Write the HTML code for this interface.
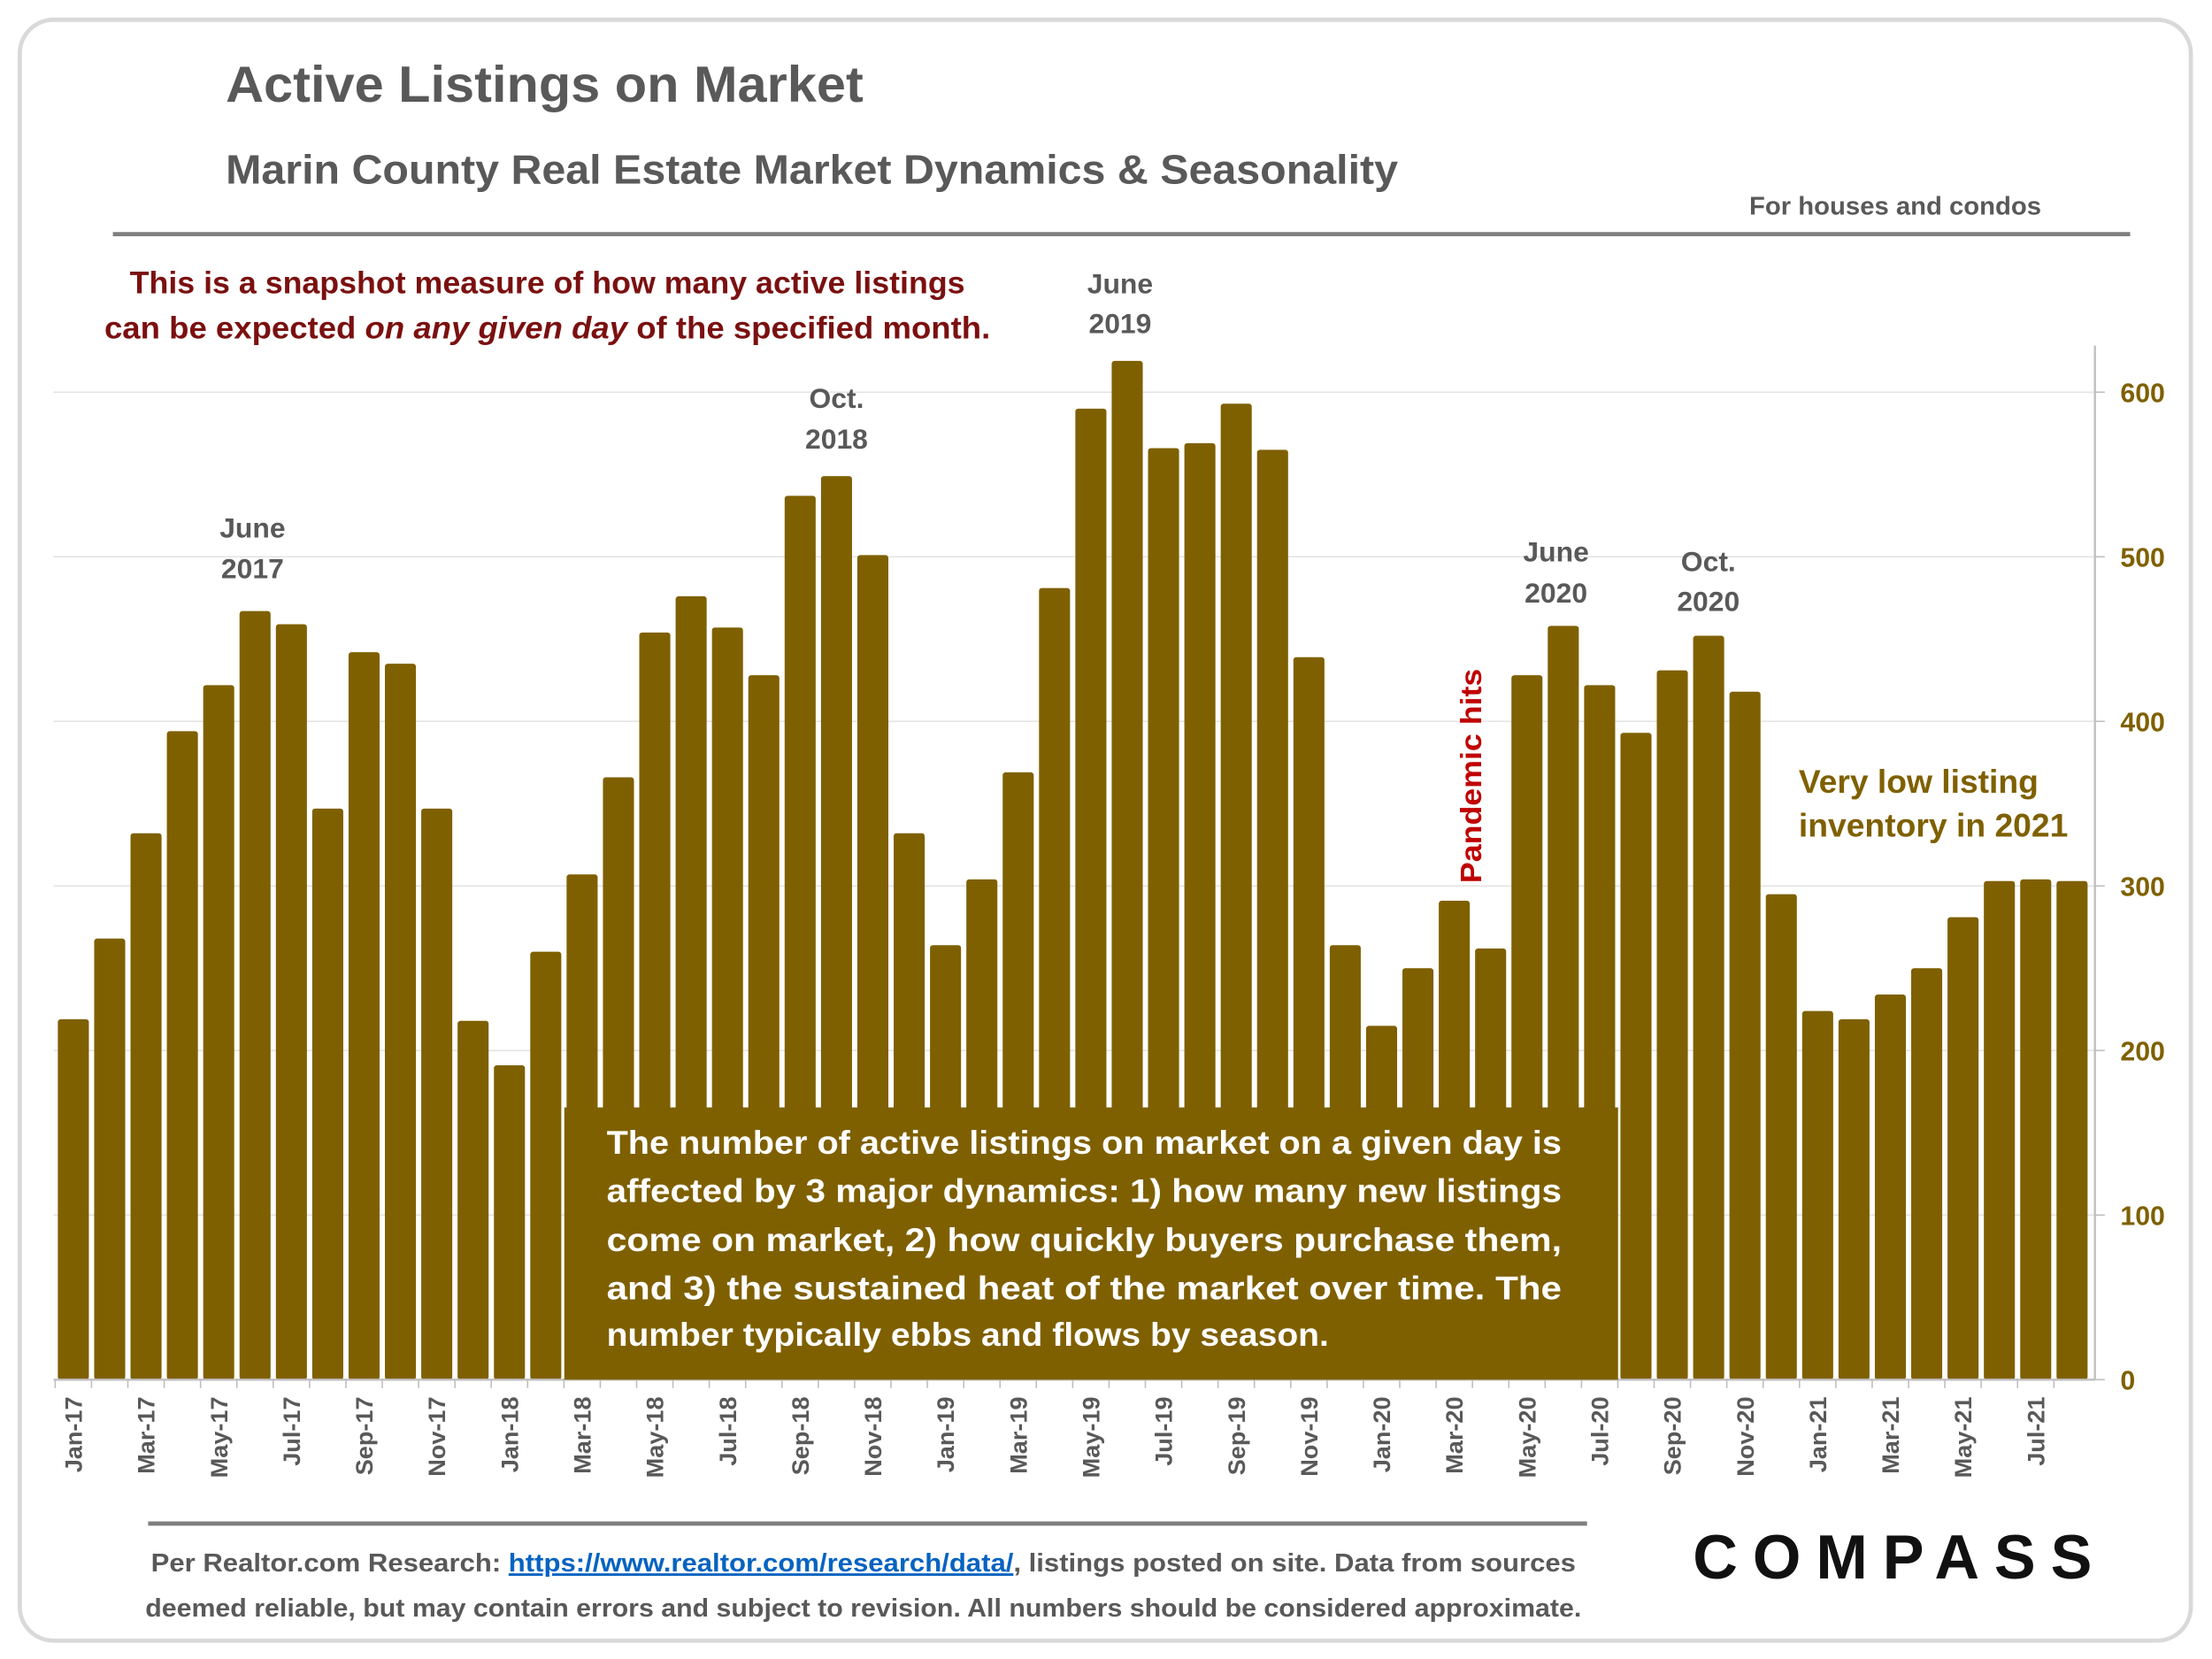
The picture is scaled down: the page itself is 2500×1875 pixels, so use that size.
<!DOCTYPE html>
<html><head><meta charset="utf-8"><style>
html,body{margin:0;padding:0;background:#fff}
svg{display:block}
text{font-family:"Liberation Sans",sans-serif;font-weight:bold}
</style></head><body>
<svg id="chart" width="2500" height="1875" viewBox="0 0 1568 1176">
<rect x="14" y="14" width="1539" height="1149" rx="24" fill="#fff" stroke="#d9d9d9" stroke-width="3"/>
<text x="160" y="72" font-size="36" fill="#595959" textLength="452" lengthAdjust="spacingAndGlyphs">Active Listings on Market</text>
<text x="160" y="130" font-size="29" fill="#595959" textLength="831" lengthAdjust="spacingAndGlyphs">Marin County Real Estate Market Dynamics &amp; Seasonality</text>
<text x="1447" y="152" font-size="18" fill="#595959" text-anchor="end" textLength="207" lengthAdjust="spacingAndGlyphs">For houses and condos</text>
<line x1="80" y1="166" x2="1510" y2="166" stroke="#7f7f7f" stroke-width="3"/>
<g id="grid"></g>
<g id="bars"></g>
<g id="yaxis"></g>
<g id="xaxis"></g>
<text x="388" y="208" font-size="22" fill="#7b1010" text-anchor="middle" textLength="592" lengthAdjust="spacingAndGlyphs">This is a snapshot measure of how many active listings</text>
<text x="388" y="240" font-size="22" fill="#7b1010" text-anchor="middle" textLength="628" lengthAdjust="spacingAndGlyphs">can be expected <tspan font-style="italic">on any given day</tspan> of the specified month.</text>
<g font-size="20" fill="#595959" text-anchor="middle">
<text x="794" y="208">June</text><text x="794" y="236">2019</text>
<text x="593" y="289">Oct.</text><text x="593" y="318">2018</text>
<text x="179" y="381">June</text><text x="179" y="410">2017</text>
<text x="1103" y="398">June</text><text x="1103" y="427">2020</text>
<text x="1211" y="405">Oct.</text><text x="1211" y="433">2020</text>
</g>
<text transform="translate(1050,550) rotate(-90)" font-size="21" fill="#c00000" text-anchor="middle" textLength="152" lengthAdjust="spacingAndGlyphs">Pandemic hits</text>
<text x="1275" y="562" font-size="23" fill="#7f6000" textLength="170" lengthAdjust="spacingAndGlyphs">Very low listing</text>
<text x="1275" y="593" font-size="23" fill="#7f6000" textLength="191" lengthAdjust="spacingAndGlyphs">inventory in 2021</text>
<rect x="400" y="785" width="747" height="193" fill="#7f6000"/>
<g font-size="23" fill="#fff">
<text x="430" y="818" textLength="677" lengthAdjust="spacingAndGlyphs">The number of active listings on market on a given day is</text>
<text x="430" y="852" textLength="677" lengthAdjust="spacingAndGlyphs">affected by 3 major dynamics: 1) how many new listings</text>
<text x="430" y="887" textLength="677" lengthAdjust="spacingAndGlyphs">come on market, 2) how quickly buyers purchase them,</text>
<text x="430" y="921" textLength="677" lengthAdjust="spacingAndGlyphs">and 3) the sustained heat of the market over time. The</text>
<text x="430" y="954" textLength="512" lengthAdjust="spacingAndGlyphs">number typically ebbs and flows by season.</text>
</g>
<line x1="105" y1="1080" x2="1125" y2="1080" stroke="#7f7f7f" stroke-width="3"/>
<text x="612" y="1114" font-size="18" fill="#595959" text-anchor="middle" textLength="1010" lengthAdjust="spacingAndGlyphs">Per Realtor.com Research:  <tspan fill="#0563c1" text-decoration="underline">https://www.realtor.com/research/data/</tspan>, listings posted on site. Data from sources</text>
<text x="612" y="1146" font-size="18" fill="#595959" text-anchor="middle" textLength="1018" lengthAdjust="spacingAndGlyphs">deemed reliable, but may contain errors and subject to revision. All numbers should be considered approximate.</text>
<text x="1200" y="1119" font-size="44" fill="#111" font-weight="normal" textLength="283" lengthAdjust="spacing">COMPASS</text>
<script>
const months = ["Jan","Feb","Mar","Apr","May","Jun","Jul","Aug","Sep","Oct","Nov","Dec"];
const categories = [];
for (let y = 17; y <= 21; y++) for (let m = 0; m < 12; m++) { if (y === 21 && m > 7) break; categories.push(months[m] + "-" + y); }
const listings = [219,268,332,394,422,467,459,347,442,435,347,218,
191,260,307,366,454,476,457,428,537,549,501,332,
264,304,369,481,590,619,566,569,593,565,439,264,
215,250,291,262,428,458,422,393,431,452,418,295,
224,219,234,250,281,303,304,303];
const yTicks = [0,100,200,300,400,500,600];
const NS = "http://www.w3.org/2000/svg";
const x0 = 52, step = 25.76, y0 = 978, pxPerUnit = 700/600, barW = 22;
const xScale = i => x0 + i*step;
const yScale = v => y0 - v*pxPerUnit;
function mk(tag, attrs, parent){ const e=document.createElementNS(NS,tag); for(const k in attrs) e.setAttribute(k,attrs[k]); parent.appendChild(e); return e; }
const grid=document.getElementById('grid'), bars=document.getElementById('bars'), ya=document.getElementById('yaxis'), xa=document.getElementById('xaxis');
yTicks.forEach(t=>{
  if(t>0){ const g=mk('line',{x1:38,x2:1485,y1:yScale(t),y2:yScale(t),stroke:'#e3e3e3','stroke-width':1},grid);
  
   }
  const tk=mk('line',{x1:1485,x2:1492,y1:yScale(t),y2:yScale(t),stroke:'#bfbfbf','stroke-width':1},ya);
  
  
  const lb=mk('text',{x:1503,y:yScale(t)+7,'font-size':19,fill:'#7f6000'},ya);
  lb.textContent=t;
  
  
});
const ax=mk('line',{x1:1485,x2:1485,y1:245,y2:y0,stroke:'#bfbfbf','stroke-width':1.5},ya);


const xl=mk('line',{x1:38,x2:1485,y1:y0,y2:y0,stroke:'#bfbfbf','stroke-width':1.5},xa);


listings.forEach((v,i)=>{
  const r=mk('rect',{x:xScale(i)-barW/2,y:yScale(v),width:barW,height:y0-yScale(v),fill:'#7f6000',rx:2},bars);
  
  
  const tk=mk('line',{x1:xScale(i)-step/2,x2:xScale(i)-step/2,y1:y0,y2:y0+6,stroke:'#bfbfbf','stroke-width':1},xa);
  
  
  if(i%2===0){
    const t=mk('text',{transform:`translate(${xScale(i)+6},990) rotate(-90)`,'font-size':17,fill:'#595959','text-anchor':'end'},xa);
    t.textContent=categories[i];
    
    
  }
});
</script>
</svg>
</body></html>
